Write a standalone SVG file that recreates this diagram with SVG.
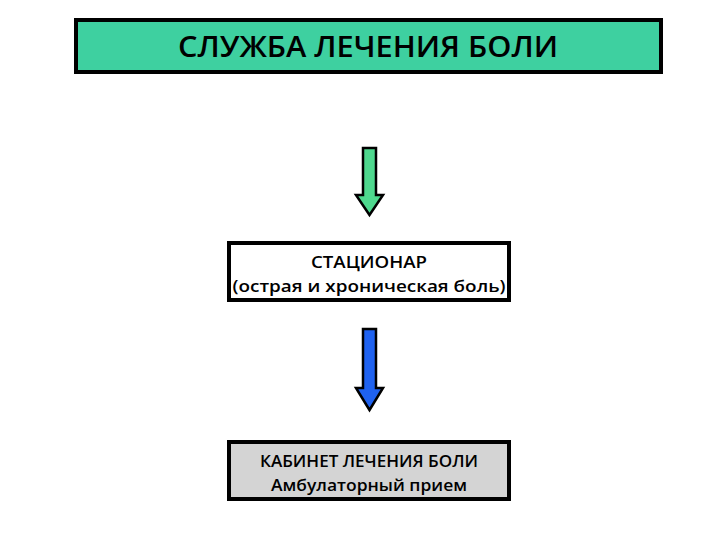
<svg xmlns="http://www.w3.org/2000/svg" width="720" height="540" viewBox="0 0 720 540">
<style>
.box{stroke:#000;stroke-width:4}
.t{font-family:"Open Sans","Liberation Sans",sans-serif;fill:#000;text-anchor:middle;font-weight:600}
.arr{stroke:#000;stroke-width:2.5;stroke-linejoin:miter}
</style>
<rect width="720" height="540" fill="#fff"/>
<g id="top"><rect class="box" x="76" y="20" width="585" height="52" fill="#3ed0a0"/><text class="t" x="368" y="57" font-size="28" textLength="380" lengthAdjust="spacingAndGlyphs">СЛУЖБА ЛЕЧЕНИЯ БОЛИ</text></g>
<g id="connectors">
<path class="arr" fill="#4ed88e" d="M363,148 H376 V195 H383 L369.5,215 L356,195 H363 Z"/>
<path class="arr" fill="#1f62f0" d="M363,329 H376 V388 H383 L369.5,410 L356,388 H363 Z"/>
</g>
<g id="stationar"><rect class="box" x="229" y="243" width="280" height="57" fill="#fff"/><text class="t" x="369" y="268" font-size="17" textLength="116" lengthAdjust="spacingAndGlyphs">СТАЦИОНАР</text><text class="t" x="369" y="292" font-size="17" textLength="273" lengthAdjust="spacingAndGlyphs">(острая и хроническая боль)</text></g>
<g id="kabinet"><rect class="box" x="229" y="442" width="280" height="57" fill="#d4d4d4"/><text class="t" x="369" y="467" font-size="17" textLength="218" lengthAdjust="spacingAndGlyphs">КАБИНЕТ ЛЕЧЕНИЯ БОЛИ</text><text class="t" x="369" y="491" font-size="17" textLength="196" lengthAdjust="spacingAndGlyphs">Амбулаторный прием</text></g>
</svg>
